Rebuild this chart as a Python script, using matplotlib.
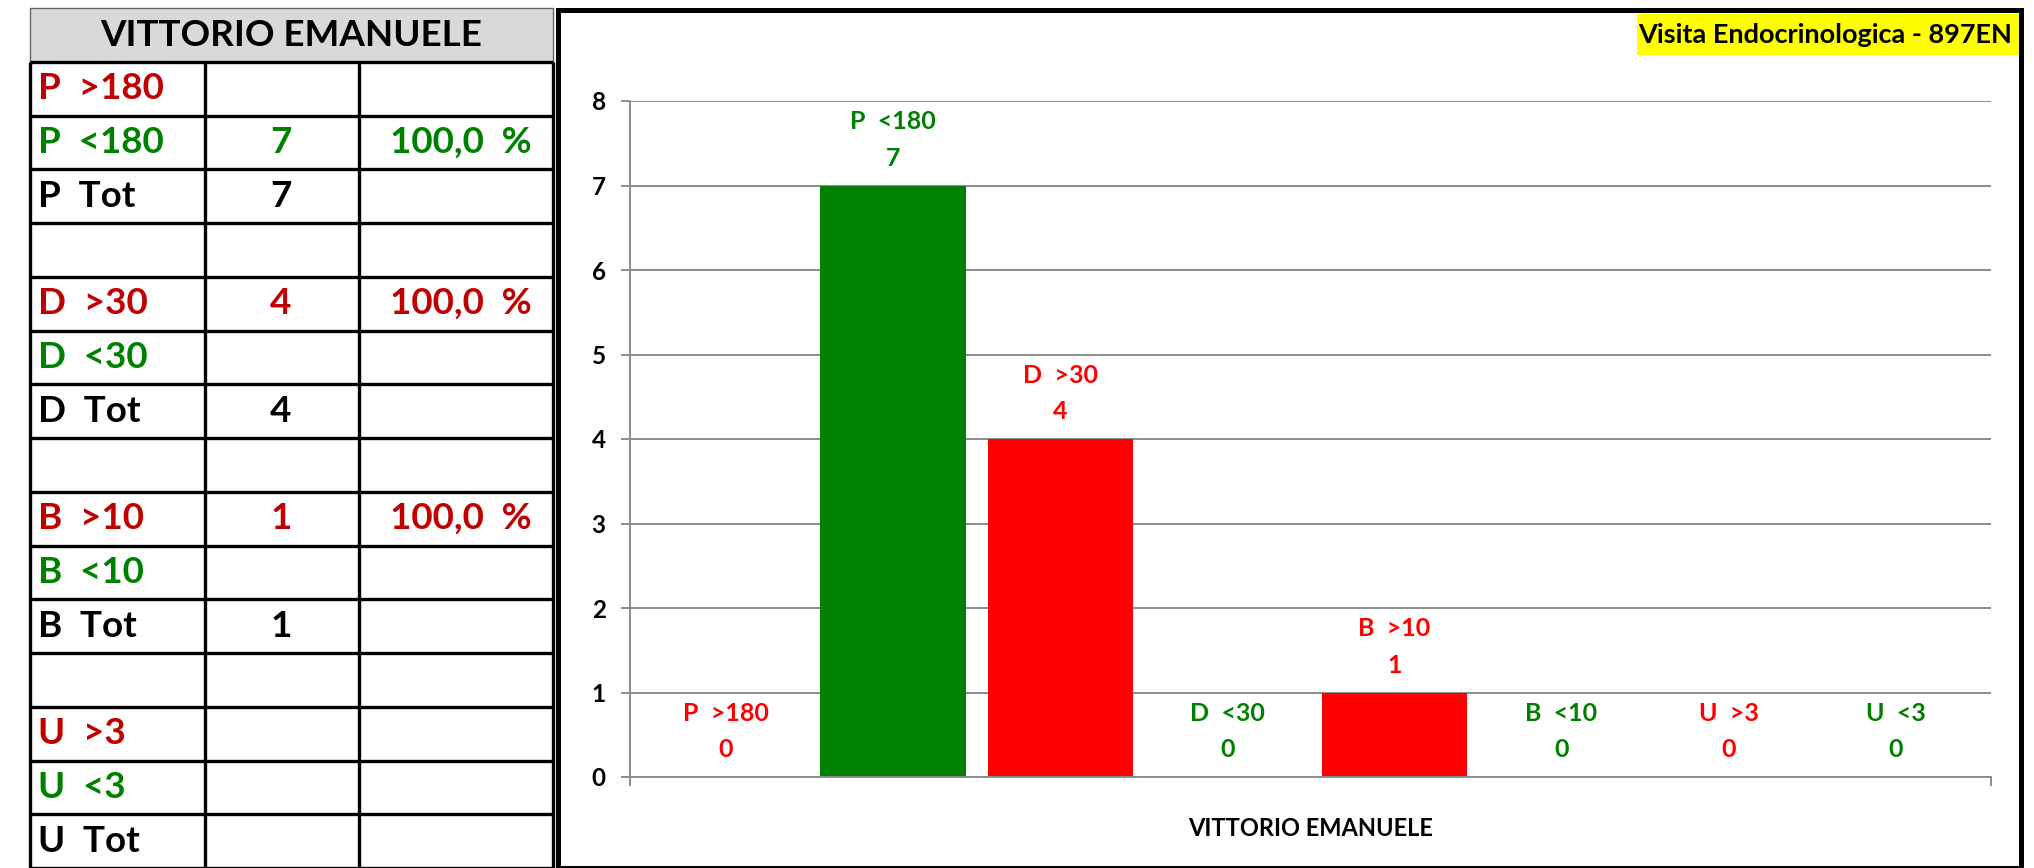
import matplotlib.pyplot as plt
from matplotlib.patches import Rectangle

plt.rcParams['font.family'] = ['Lato', 'DejaVu Sans']
plt.rcParams['font.weight'] = 'bold'

W, H = 2034, 868

# chart data
series = ['P  >180', 'P  <180', 'D  >30', 'D  <30', 'B  >10', 'B  <10', 'U  >3', 'U  <3']
values = [0, 7, 4, 0, 1, 0, 0, 0]
bar_colors = ['#ff0000', '#008000'] * 4
category = 'VITTORIO EMANUELE'
chart_title = 'Visita Endocrinologica - 897EN'
yticks = [0, 1, 2, 3, 4, 5, 6, 7, 8]

# table data
table_header = 'VITTORIO EMANUELE'
table_labels = ['P  >180', 'P  <180', 'P  Tot', '',
                'D  >30', 'D  <30', 'D  Tot', '',
                'B  >10', 'B  <10', 'B  Tot', '',
                'U  >3', 'U  <3', 'U  Tot']
table_counts = ['', '7', '7', '', '4', '', '4', '', '1', '', '1', '', '', '', '']
table_perc = ['', '100,0 %', '', '', '100,0 %', '', '', '', '100,0 %', '', '', '', '', '', '']
row_colors = ['#c00000', '#008000', 'black', 'black'] * 4

fig = plt.figure(figsize=(W / 100, H / 100), dpi=100)

# ---- table on the left
tax = fig.add_axes([30 / W, 0, 523 / W, 860 / H])
tax.set_xlim(0, 523)
tax.set_ylim(16, 0)
tax.axis('off')
col_edges = [0, 175, 329, 523]
tax.add_patch(Rectangle((0, 0), 523, 1, fc='#d9d9d9', ec='#666666', lw=1, clip_on=False))
tax.text(261.5, 0.52, table_header, ha='center', va='center', fontsize=26.5, color='black')
for r in range(1, 17):
    tax.plot([0, 523], [r, r], color='black', lw=2.4, clip_on=False, solid_capstyle='butt')
for cx in col_edges:
    tax.plot([cx, cx], [1, 16], color='black', lw=2.4, clip_on=False, solid_capstyle='butt')
for i in range(len(table_labels)):
    y = i + 1.5
    c = row_colors[i]
    tax.text(8, y, table_labels[i], ha='left', va='center', fontsize=26.5, color=c)
    tax.text(251, y, table_counts[i], ha='center', va='center', fontsize=26.5, color=c)
    tax.text(502, y, table_perc[i].replace(' ', '  '), ha='right', va='center', fontsize=26.5, color=c)

# ---- chart frame and title box
fig.patches.append(Rectangle((558 / W, 0), (2021 - 558) / W, (868 - 10) / H,
                             transform=fig.transFigure, fill=False, ec='black', lw=3.6))
fig.patches.append(Rectangle((1637 / W, 1 - 55 / H), (2019 - 1637) / W, 41 / H,
                             transform=fig.transFigure, fc='#ffff00', ec='none'))
fig.text(2012 / W, 1 - 35 / H, chart_title, ha='right', va='center', fontsize=19.5, color='black')

# ---- bar chart
ax = fig.add_axes([630 / W, 1 - 777 / H, (1991 - 630) / W, (777 - 101) / H])
x = list(range(len(series)))
ax.bar(x, values, width=0.87, color=bar_colors, zorder=2)
x0, x1 = -0.575, 7.57
ax.set_xlim(x0, x1)
ax.set_ylim(0, 8)
ax.set_yticks(yticks)
ax.yaxis.grid(True, color='#8c8c8c', lw=1.4)
ax.set_axisbelow(True)
for s in ['top', 'right']:
    ax.spines[s].set_visible(False)
for s in ['left', 'bottom']:
    ax.spines[s].set_color('#8c8c8c')
    ax.spines[s].set_linewidth(1.4)
ax.tick_params(axis='y', length=6.5, width=1.4, color='#8c8c8c', labelsize=17.5, pad=11)
ax.set_xticks([(x0 + x1) / 2])
ax.set_xticklabels([category], fontsize=17)
ax.tick_params(axis='x', which='major', length=0, pad=29)
ax.set_xticks([x0, x1], minor=True)
ax.tick_params(axis='x', which='minor', length=6.5, width=1.4, color='#8c8c8c')

for i, v in enumerate(values):
    ax.annotate(series[i], (x[i], v), xytext=(0, 46), textcoords='offset points',
                ha='center', va='center', fontsize=18, color=bar_colors[i])
    ax.annotate(str(v), (x[i], v), xytext=(0, 19.5), textcoords='offset points',
                ha='center', va='center', fontsize=18, color=bar_colors[i])

fig.savefig('out.png', dpi=100)
